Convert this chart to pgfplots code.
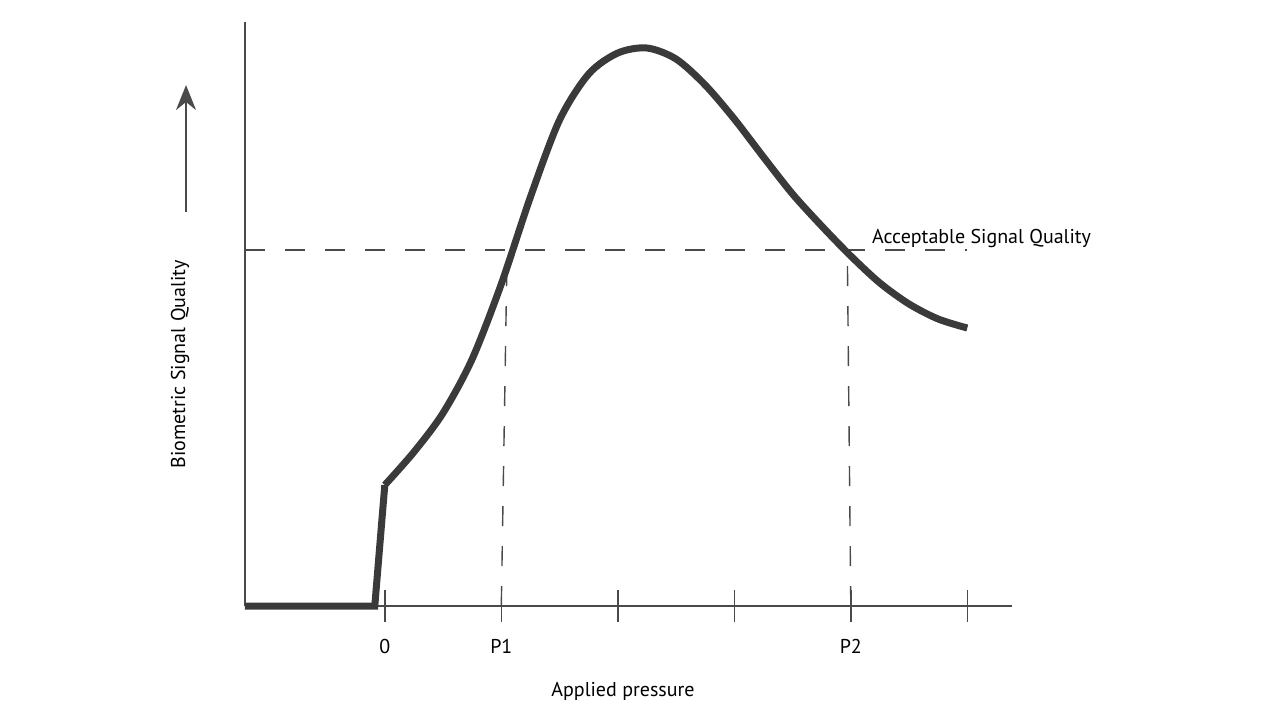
\documentclass[border=0pt]{standalone}
\usepackage{pgfplots}
\pgfplotsset{compat=1.18}
\usepackage{fontspec}
\setmainfont{PT Sans}
\usetikzlibrary{arrows.meta}
\definecolor{curvec}{HTML}{3A3A3A}
\definecolor{axisc}{HTML}{4A4A4A}
\begin{document}
\begin{tikzpicture}
\useasboundingbox (-122.5pt,-57pt) rectangle (517.5pt,303pt);
\begin{axis}[
  at={(0,0)}, anchor=south west,
  x=58.25pt, y=50pt,
  xmin=-1.2, xmax=5.382, ymin=0, ymax=5.84,
  axis x line=bottom, axis y line=left,
  axis line style={-, color=axisc, line width=1pt},
  xtick={0,1,2,3,4,5}, xticklabels={0,P1,,,P2,},
  ytick=\empty,
  tick align=center, major tick length=16pt,
  tick style={color=axisc, line width=0.8pt},
  xticklabel style={anchor=center, yshift=-12pt},
  /pgf/number format/assume math mode=true,
  font=\fontsize{10}{12}\selectfont,
  xlabel={Applied pressure},
  ylabel={Biometric Signal Quality},
  xlabel style={at={(axis description cs:0.493,-0.147)}, anchor=center},
  ylabel style={at={(axis description cs:-0.0847,0.414)}, anchor=center},
  clip=false,
]
% acceptable quality threshold
\addplot[axisc, line width=0.7pt, dash pattern=on 10pt off 10pt] coordinates {(-1.2,3.56) (5.0,3.56)};
\addplot[axisc, line width=0.7pt, dash pattern=on 10pt off 10pt] coordinates {(1.0,0) (1.05,3.56)};
\addplot[axisc, line width=0.7pt, dash pattern=on 10pt off 10pt] coordinates {(4.0,0) (3.97,3.56)};
% signal quality curve
\addplot[curvec, line width=3.5pt, line join=miter] coordinates {(-1.2,0) (-0.086,0) (0,1.21)};
\addplot[curvec, line width=3.5pt, smooth] coordinates {
(0,1.21) (0.25,1.54) (0.5,1.93) (0.75,2.47) (1.0,3.22) (1.25,4.09)
(1.5,4.86) (1.75,5.32) (2.0,5.53) (2.25,5.58) (2.5,5.47) (2.75,5.21)
(3.0,4.87) (3.25,4.49) (3.5,4.12) (3.75,3.80) (4.0,3.50) (4.25,3.23)
(4.5,3.02) (4.75,2.87) (5.0,2.78)};
\node[anchor=base west, inner sep=0pt] at (axis cs:4.18,3.63) {Acceptable Signal Quality};
\draw[axisc, line width=1pt, -{Stealth[length=12.5pt,width=10pt]}]
  (axis description cs:-0.0769,0.675) -- (axis description cs:-0.0769,0.892);
\end{axis}
\end{tikzpicture}
\end{document}
